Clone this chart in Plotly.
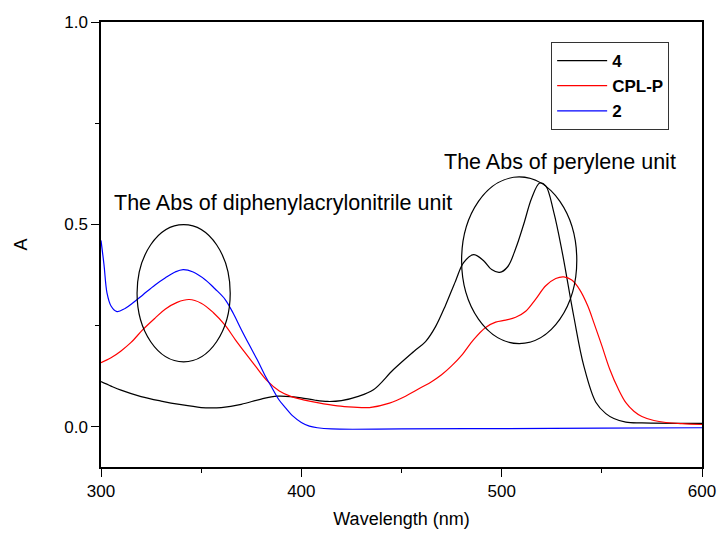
import plotly.graph_objects as go

# ---- data ----
wl_4 = [300, 305, 310, 320, 330, 340, 350, 355, 360, 370, 380, 388, 395, 400, 407, 413, 420, 428, 436, 446,
        456, 462, 467, 472, 477, 481, 486, 491, 495, 499, 503, 507, 511, 515, 519, 522, 526, 530, 536, 541,
        547, 552, 556, 562, 570, 600]
a_4 = [0.111, 0.100, 0.090, 0.074, 0.063, 0.054, 0.047, 0.046, 0.047, 0.055, 0.068, 0.075, 0.074, 0.071, 0.065, 0.062,
       0.064, 0.074, 0.091, 0.141, 0.185, 0.210, 0.247, 0.300, 0.360, 0.405, 0.425, 0.410, 0.388, 0.381, 0.395,
       0.440, 0.500, 0.565, 0.602, 0.595, 0.530, 0.437, 0.272, 0.150, 0.060, 0.032, 0.020, 0.011, 0.009, 0.008]

wl_cpl = [300, 305, 310, 315, 321, 327, 332, 338, 344, 350, 356, 362, 367, 372, 377, 383, 389, 395, 401, 408,
          418, 426, 434, 444, 452, 460, 465, 470, 475, 480, 486, 492, 497, 502, 507, 512, 517, 522, 527, 531,
          535, 539, 543, 546, 550, 554, 558, 562, 566, 570, 576, 582, 590, 600]
a_cpl = [0.158, 0.170, 0.187, 0.208, 0.240, 0.268, 0.290, 0.307, 0.314, 0.305, 0.282, 0.250, 0.215, 0.182, 0.150,
         0.113, 0.088, 0.074, 0.066, 0.059, 0.051, 0.048, 0.047, 0.058, 0.075, 0.097, 0.111, 0.128, 0.150, 0.176,
         0.215, 0.245, 0.258, 0.263, 0.270, 0.285, 0.315, 0.348, 0.366, 0.370, 0.362, 0.338, 0.298, 0.257, 0.200,
         0.141, 0.095, 0.059, 0.038, 0.025, 0.015, 0.010, 0.007, 0.005]

wl_2 = [300, 301.5, 303, 305, 308, 312, 316, 321, 327, 332, 337, 341, 346, 352, 357, 362, 366, 370, 374, 378, 382,
        385, 389, 392, 396, 400, 404, 408, 415, 450, 500, 550, 600]
a_2 = [0.460, 0.400, 0.330, 0.298, 0.284, 0.292, 0.306, 0.326, 0.350, 0.367, 0.382, 0.388, 0.382, 0.363, 0.340, 0.314,
       0.280, 0.240, 0.202, 0.165, 0.125, 0.099, 0.065, 0.047, 0.025, 0.010, 0.001, -0.003, -0.006, -0.006, -0.005,
       -0.004, -0.003]

series_names = ["4", "CPL-P", "2"]
series_colors = ["#000000", "#ff0000", "#0000ff"]

ellipses = [  # x0, x1, y0, y1 in data units
    (318, 364.5, 0.16, 0.499),
    (480, 537.5, 0.205, 0.617),
]
labels = [
    ("The Abs of diphenylacrylonitrile unit", 391, 0.553),
    ("The Abs of perylene unit", 529, 0.654),
]

FONT = "Liberation Sans, Arial, sans-serif"

fig = go.Figure()
for wl, a, name, col in zip([wl_4, wl_cpl, wl_2], [a_4, a_cpl, a_2], series_names, series_colors):
    fig.add_trace(go.Scatter(x=wl, y=a, mode="lines", name=name,
                             line=dict(color=col, width=1.2, shape="spline", smoothing=1.0)))

for x0, x1, y0, y1 in ellipses:
    fig.add_shape(type="circle", xref="x", yref="y", x0=x0, x1=x1, y0=y0, y1=y1,
                  line=dict(color="black", width=1.2))

for txt, x, y in labels:
    fig.add_annotation(x=x, y=y, xref="x", yref="y", text=txt, showarrow=False,
                       font=dict(family=FONT, size=21.5, color="black"))

fig.update_layout(
    width=728, height=540,
    margin=dict(l=101, r=18, t=22, b=73),
    plot_bgcolor="white", paper_bgcolor="white",
    font=dict(family=FONT, size=17, color="black"),
    showlegend=True,
    legend=dict(x=0.749, y=0.955, xanchor="left", yanchor="top",
                bordercolor="#333333", borderwidth=1, bgcolor="white",
                font=dict(family=FONT, size=17, color="black", weight="bold"),
                tracegroupgap=0, itemwidth=50),
)
fig.update_xaxes(range=[300, 600], dtick=100, tick0=300, showgrid=False, zeroline=False,
                 showline=True, linecolor="black", linewidth=1.5, mirror=True,
                 ticks="outside", ticklen=8, tickwidth=1.2, tickcolor="black",
                 minor=dict(dtick=50, tick0=300, ticks="outside", ticklen=4, tickcolor="black", showgrid=False),
                 title=dict(text="Wavelength (nm)", font=dict(family=FONT, size=18), standoff=12),
                 tickfont=dict(family=FONT, size=17))
fig.update_yaxes(range=[-0.1, 1.0], tickvals=[0.0, 0.5, 1.0], ticktext=["0.0", "0.5", "1.0"],
                 showgrid=False, zeroline=False,
                 showline=True, linecolor="black", linewidth=1.5, mirror=True,
                 ticks="outside", ticklen=8, tickwidth=1.2, tickcolor="black",
                 minor=dict(tickvals=[0.25, 0.75], ticks="outside", ticklen=4, tickcolor="black", showgrid=False),
                 title=dict(text="A", font=dict(family=FONT, size=18), standoff=32),
                 tickfont=dict(family=FONT, size=17))

fig.write_html("out.html")
